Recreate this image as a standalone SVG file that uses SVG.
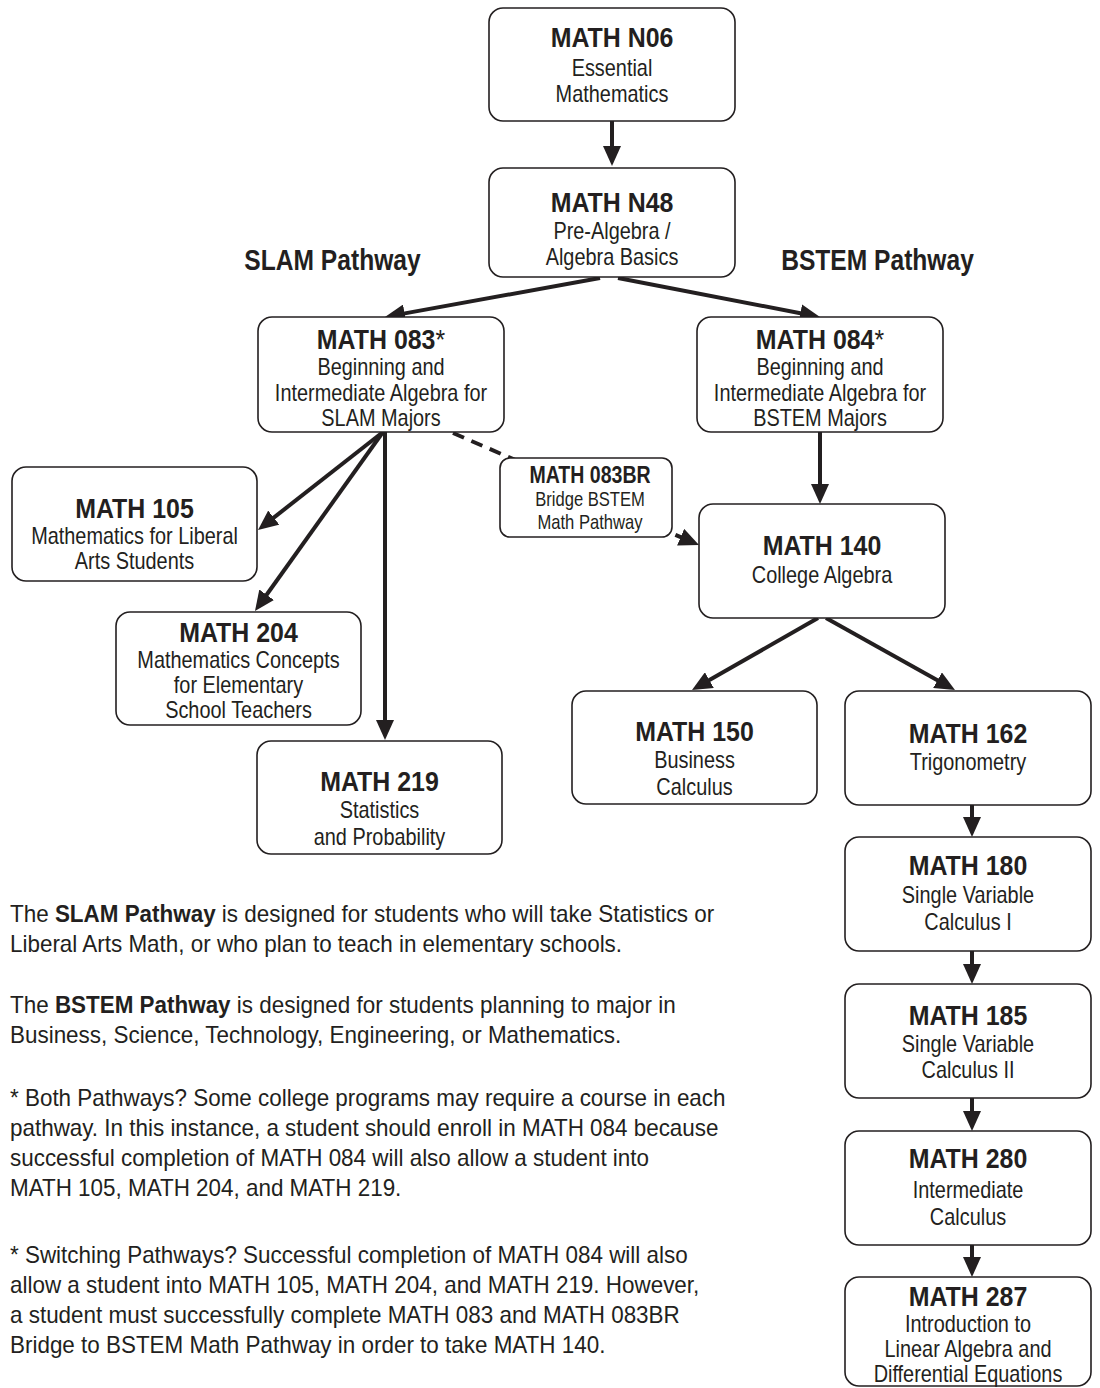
<svg xmlns="http://www.w3.org/2000/svg" width="1100" height="1388" viewBox="0 0 1100 1388">
<style>
text{font-family:"Liberation Sans",Arial,sans-serif;fill:#231f20;text-anchor:middle}
.t{font-weight:bold;font-size:28px;transform:scaleX(.89)}
.b{font-size:23px;transform:scaleX(.865)}
.st{font-weight:bold;font-size:23px;transform:scaleX(.85)}
.sb{font-size:20px;transform:scaleX(.83)}
.p{font-size:24px;text-anchor:start;transform:scaleX(.935)}
.h{font-weight:bold;font-size:30px;transform:scaleX(.82)}
.box{fill:#fff;stroke:#231f20;stroke-width:1.6}
.c{fill:none;stroke:#231f20;stroke-width:4}
.d{stroke-dasharray:12 8}
</style>
<defs>
<marker id="ah" markerUnits="userSpaceOnUse" markerWidth="20" markerHeight="18" refX="4" refY="9" orient="auto">
<path d="M0,0 L20,9 L0,18 z" fill="#231f20"/>
</marker>
</defs>
<rect width="1100" height="1388" fill="#fff"/>
<g id="connectors">
<path class="c" d="M612,121 L612,150" marker-end="url(#ah)"/>
<path class="c" d="M600,278 L400.7,314.1" marker-end="url(#ah)"/>
<path class="c" d="M618,278 L804.3,314" marker-end="url(#ah)"/>
<path class="c" d="M820,432 L820,488" marker-end="url(#ah)"/>
<path class="c" d="M383,432 L270.6,520.1" marker-end="url(#ah)"/>
<path class="c" d="M383,432 L264.3,598" marker-end="url(#ah)"/>
<path class="c" d="M385,432 L385,724" marker-end="url(#ah)"/>
<path class="c d" d="M453,433 L522,463"/>
<path class="c d" d="M657,527 L684.3,538.7" marker-end="url(#ah)"/>
<path class="c" d="M818,618 L705.9,682.1" marker-end="url(#ah)"/>
<path class="c" d="M826,618 L941,682.2" marker-end="url(#ah)"/>
<path class="c" d="M972,805 L972,821" marker-end="url(#ah)"/>
<path class="c" d="M972,951 L972,968" marker-end="url(#ah)"/>
<path class="c" d="M972,1098 L972,1115" marker-end="url(#ah)"/>
<path class="c" d="M972,1245 L972,1261" marker-end="url(#ah)"/>
</g>
<g id="labels">
<g transform="translate(332.5 0)"><text class="h" x="0" y="270">SLAM Pathway</text></g>
<g transform="translate(877.5 0)"><text class="h" x="0" y="270">BSTEM Pathway</text></g>
</g>
<g id="n06"><rect class="box" x="489" y="8" width="246" height="113" rx="14"/>
<g transform="translate(612 0)"><text class="t" x="0" y="47">MATH N06</text><text class="b" x="0" y="76">Essential</text><text class="b" x="0" y="102">Mathematics</text></g></g>
<g id="n48"><rect class="box" x="489" y="168" width="246" height="109" rx="14"/>
<g transform="translate(612 0)"><text class="t" x="0" y="212">MATH N48</text><text class="b" x="0" y="239">Pre-Algebra /</text><text class="b" x="0" y="265">Algebra Basics</text></g></g>
<g id="m083"><rect class="box" x="258" y="317" width="246" height="115" rx="14"/>
<g transform="translate(381 0)"><text class="t" x="0" y="349">MATH 083<tspan font-weight="normal">*</tspan></text><text class="b" x="0" y="375">Beginning and</text><text class="b" x="0" y="401">Intermediate Algebra for</text><text class="b" x="0" y="426">SLAM Majors</text></g></g>
<g id="m084"><rect class="box" x="697" y="317" width="246" height="115" rx="14"/>
<g transform="translate(820 0)"><text class="t" x="0" y="349">MATH 084<tspan font-weight="normal">*</tspan></text><text class="b" x="0" y="375">Beginning and</text><text class="b" x="0" y="401">Intermediate Algebra for</text><text class="b" x="0" y="426">BSTEM Majors</text></g></g>
<g id="m083br"><rect class="box" x="500" y="458" width="172" height="79" rx="10"/>
<g transform="translate(590 0)"><text class="st" x="0" y="483">MATH 083BR</text><text class="sb" x="0" y="506">Bridge BSTEM</text><text class="sb" x="0" y="529">Math Pathway</text></g></g>
<g id="m105"><rect class="box" x="12" y="467" width="245" height="114" rx="14"/>
<g transform="translate(134.5 0)"><text class="t" x="0" y="518">MATH 105</text><text class="b" x="0" y="544">Mathematics for Liberal</text><text class="b" x="0" y="569">Arts Students</text></g></g>
<g id="m204"><rect class="box" x="116" y="612" width="245" height="113" rx="14"/>
<g transform="translate(238.5 0)"><text class="t" x="0" y="642">MATH 204</text><text class="b" x="0" y="668">Mathematics Concepts</text><text class="b" x="0" y="693">for Elementary</text><text class="b" x="0" y="718">School Teachers</text></g></g>
<g id="m219"><rect class="box" x="257" y="741" width="245" height="113" rx="14"/>
<g transform="translate(379.5 0)"><text class="t" x="0" y="791">MATH 219</text><text class="b" x="0" y="818">Statistics</text><text class="b" x="0" y="845">and Probability</text></g></g>
<g id="m140"><rect class="box" x="699" y="504" width="246" height="114" rx="14"/>
<g transform="translate(822 0)"><text class="t" x="0" y="555">MATH 140</text><text class="b" x="0" y="583">College Algebra</text></g></g>
<g id="m150"><rect class="box" x="572" y="691" width="245" height="113" rx="14"/>
<g transform="translate(694.5 0)"><text class="t" x="0" y="741">MATH 150</text><text class="b" x="0" y="768">Business</text><text class="b" x="0" y="795">Calculus</text></g></g>
<g id="m162"><rect class="box" x="845" y="691" width="246" height="114" rx="14"/>
<g transform="translate(968 0)"><text class="t" x="0" y="743">MATH 162</text><text class="b" x="0" y="770">Trigonometry</text></g></g>
<g id="m180"><rect class="box" x="845" y="837" width="246" height="114" rx="14"/>
<g transform="translate(968 0)"><text class="t" x="0" y="875">MATH 180</text><text class="b" x="0" y="903">Single Variable</text><text class="b" x="0" y="930">Calculus I</text></g></g>
<g id="m185"><rect class="box" x="845" y="984" width="246" height="114" rx="14"/>
<g transform="translate(968 0)"><text class="t" x="0" y="1025">MATH 185</text><text class="b" x="0" y="1052">Single Variable</text><text class="b" x="0" y="1078">Calculus II</text></g></g>
<g id="m280"><rect class="box" x="845" y="1131" width="246" height="114" rx="14"/>
<g transform="translate(968 0)"><text class="t" x="0" y="1168">MATH 280</text><text class="b" x="0" y="1198">Intermediate</text><text class="b" x="0" y="1225">Calculus</text></g></g>
<g id="m287"><rect class="box" x="845" y="1277" width="246" height="109" rx="14"/>
<g transform="translate(968 0)"><text class="t" x="0" y="1306">MATH 287</text><text class="b" x="0" y="1332">Introduction to</text><text class="b" x="0" y="1357">Linear Algebra and</text><text class="b" x="0" y="1382">Differential Equations</text></g></g>
<g id="notes" transform="translate(10 0)">
<text class="p" x="0" y="922">The <tspan font-weight="bold">SLAM Pathway</tspan> is designed for students who will take Statistics or</text>
<text class="p" x="0" y="952">Liberal Arts Math, or who plan to teach in elementary schools.</text>
<text class="p" x="0" y="1013">The <tspan font-weight="bold">BSTEM Pathway</tspan> is designed for students planning to major in</text>
<text class="p" x="0" y="1043">Business, Science, Technology, Engineering, or Mathematics.</text>
<text class="p" x="0" y="1106">* Both Pathways? Some college programs may require a course in each</text>
<text class="p" x="0" y="1136">pathway. In this instance, a student should enroll in MATH 084 because</text>
<text class="p" x="0" y="1166">successful completion of MATH 084 will also allow a student into</text>
<text class="p" x="0" y="1196">MATH 105, MATH 204, and MATH 219.</text>
<text class="p" x="0" y="1263">* Switching Pathways? Successful completion of MATH 084 will also</text>
<text class="p" x="0" y="1293">allow a student into MATH 105, MATH 204, and MATH 219. However,</text>
<text class="p" x="0" y="1323">a student must successfully complete MATH 083 and MATH 083BR</text>
<text class="p" x="0" y="1353">Bridge to BSTEM Math Pathway in order to take MATH 140.</text>
</g>
</svg>
